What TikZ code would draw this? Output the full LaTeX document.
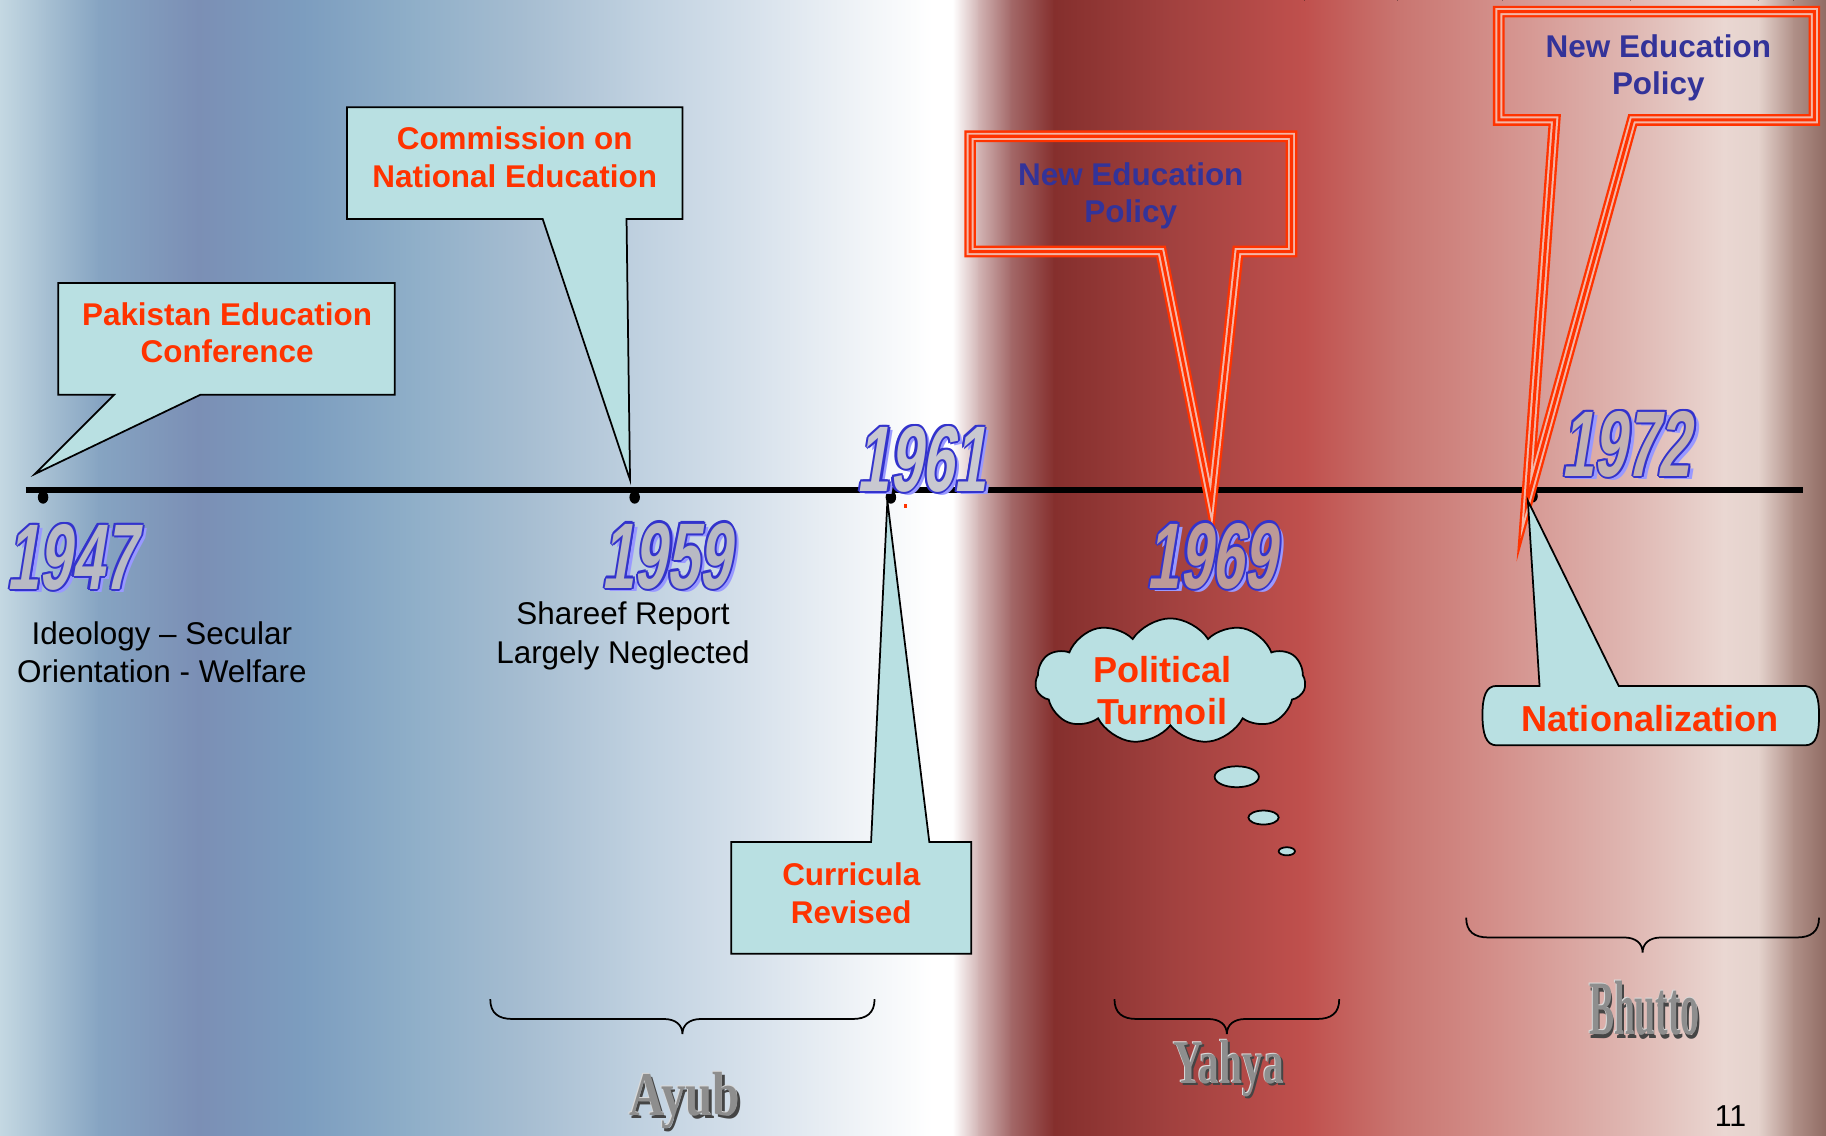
\documentclass[tikz,border=0pt]{standalone}
\usepackage{fontspec}
\usepackage{graphicx}
\setmainfont{Liberation Sans}
\newfontfamily\yearfont[FakeStretch=0.62,FakeSlant=0.16]{Liberation Sans}
\newfontfamily\leadfont{Liberation Serif}
\usetikzlibrary{shapes.symbols,shapes.geometric}

\definecolor{b0}{HTML}{C4D8E2}
\definecolor{b1}{HTML}{A6BFD2}
\definecolor{b2}{HTML}{86A4C2}
\definecolor{b3}{HTML}{7B8FB5}
\definecolor{b4}{HTML}{7C9DBF}
\definecolor{b5}{HTML}{8EAEC8}
\definecolor{b6}{HTML}{A6BDD1}
\definecolor{b7}{HTML}{C0D1E0}
\definecolor{b8}{HTML}{D8E2EC}
\definecolor{b9}{HTML}{EEF2F6}
\definecolor{b10}{HTML}{FFFFFF}
\definecolor{r1}{HTML}{D2B4B4}
\definecolor{r2}{HTML}{A36868}
\definecolor{r3}{HTML}{852F2D}
\definecolor{r4}{HTML}{A0403E}
\definecolor{r5}{HTML}{C0504D}
\definecolor{r6}{HTML}{C97570}
\definecolor{r7}{HTML}{D4918C}
\definecolor{r8}{HTML}{DFB7B2}
\definecolor{r9}{HTML}{EAD7D2}
\definecolor{r10}{HTML}{E4D2CC}
\definecolor{r11}{HTML}{B09088}
\definecolor{r12}{HTML}{8F6B63}

\definecolor{cfill}{HTML}{B9E0E2}
\definecolor{redtext}{HTML}{FF3300}
\definecolor{navytext}{HTML}{333399}
\definecolor{calred}{HTML}{FF3300}
\definecolor{calpink}{HTML}{F4B6A6}
\definecolor{youtline}{HTML}{3333CC}
\definecolor{yshadow}{HTML}{9999FF}
\definecolor{yfillA}{HTML}{B8BAC4}
\definecolor{yfillB}{HTML}{C8C8D0}
\definecolor{yfillC}{HTML}{BC9A98}
\definecolor{yfillD}{HTML}{C4B2B2}
\definecolor{leaddark}{HTML}{454545}
\definecolor{leadmid}{HTML}{8E8E8E}
\definecolor{leadlight}{HTML}{DADADA}

\newcommand\ocp[3]{\rlap{\hspace*{#1pt}\raisebox{#2pt}{#3}}}
\newcommand\yearmark[2]{%
  \ocp{4}{-3}{\color{yshadow}#2}%
  \ocp{1.8}{0}{\color{youtline}#2}\ocp{-1.8}{0}{\color{youtline}#2}%
  \ocp{0}{1.8}{\color{youtline}#2}\ocp{0}{-1.8}{\color{youtline}#2}%
  \ocp{1.3}{1.3}{\color{youtline}#2}\ocp{-1.3}{1.3}{\color{youtline}#2}%
  \ocp{1.3}{-1.3}{\color{youtline}#2}\ocp{-1.3}{-1.3}{\color{youtline}#2}%
  {\color{#1}#2}}
\newcommand\leadmark[1]{%
  \ocp{2.5}{-2}{\color{leaddark}#1}%
  \ocp{-0.8}{0.8}{\color{leadlight}#1}%
  {\color{leadmid}#1}}
\newcommand\ubrace[4]{%
  \draw[bracestyle] (#1,#3) .. controls (#1,#4-5) and (#1+7,#4) .. (#1+19,#4)
    -- ({(#1+#2)/2-16},#4) .. controls ({(#1+#2)/2-6},#4) and ({(#1+#2)/2},#4+5) .. ({(#1+#2)/2},#4+13)
    .. controls ({(#1+#2)/2},#4+5) and ({(#1+#2)/2+6},#4) .. ({(#1+#2)/2+16},#4)
    -- (#2-19,#4) .. controls (#2-7,#4) and (#2,#4-5) .. (#2,#3);}

\tikzset{
  callout/.style={draw=black, line width=1.5pt, fill=cfill, line join=miter},
  redcall/.style={draw=calred, line width=10pt, miter limit=14, line join=miter,
    postaction={draw=calpink, line width=6pt, miter limit=14, line join=miter},
    postaction={draw=calred, line width=2.6pt, miter limit=14, line join=miter}},
  boxtext/.style={font=\bfseries\fontsize{27}{32}\selectfont, text=redtext, align=center, inner sep=0pt},
  bigtext/.style={font=\bfseries\fontsize{31}{36}\selectfont, text=redtext, align=center, inner sep=0pt},
  navtext/.style={font=\bfseries\fontsize{27}{32}\selectfont, text=navytext, align=center, inner sep=0pt},
  plaintext/.style={font=\fontsize{27}{33}\selectfont, text=black, align=center, inner sep=0pt},
  yearlbl/.style={font=\yearfont\bfseries\fontsize{80}{80}\selectfont, inner sep=0pt},
  leadlbl/.style={font=\leadfont\bfseries\fontsize{48}{48}\selectfont, inner sep=0pt},
  tickmark/.style={ellipse, fill=black, minimum width=9pt, minimum height=11pt, inner sep=0pt},
  bubble/.style={ellipse, draw=black, line width=1.5pt, fill=cfill, inner sep=0pt},
  bracestyle/.style={draw=black, line width=1.5pt},
}

\begin{document}
\begin{tikzpicture}[x=1pt,y=-1pt]
\useasboundingbox (0,0) rectangle (1568,975);
% background
\foreach \xa/\xb/\ca/\cb in {0/40/b0/b1, 40/85/b1/b2, 85/170/b2/b3, 170/260/b3/b4,
  260/350/b4/b5, 350/450/b5/b6, 450/550/b6/b7, 550/650/b7/b8, 650/730/b8/b9,
  730/800/b9/b10, 800/818/b10/b10, 818/840/b10/r1, 840/868/r1/r2, 868/905/r2/r3,
  905/1000/r3/r4, 1000/1120/r4/r5, 1120/1200/r5/r6, 1200/1290/r6/r7, 1290/1400/r7/r8,
  1400/1480/r8/r9, 1480/1510/r9/r10, 1510/1540/r10/r11, 1540/1568/r11/r12}
  {\fill[left color=\ca, right color=\cb] (\xa,0) rectangle ({\xb+0.8},975);}

% timeline
\coordinate (tlL) at (22,421);
\coordinate (tlR) at (1548,421);
\draw[line width=5pt] (tlL) -- (tlR);
\node[tickmark] (t1947) at (37,427) {};
\node[tickmark] (t1959) at (545,427) {};
\node[tickmark] (t1961) at (765,427) {};
\node[tickmark] (t1969) at (1040,428) {};
\node[tickmark] (t1972) at (1316,426) {};
\fill[redtext] (776,433) rectangle (779,436);

% tips of the callouts
\coordinate (tipPEC) at (30,407);
\coordinate (tipCNE) at (541,412);
\coordinate (tipCR) at (762,430);
\coordinate (tipN69) at (1040,432);
\coordinate (tipN72) at (1311,432);
\coordinate (tipNat) at (1312,430);

% Pakistan Education Conference
\draw[callout] (50,243) -- (339,243) -- (339,339) -- (172,339) -- (tipPEC) -- (98,339) -- (50,339) -- cycle;
\node[boxtext] (pec) at (195,286) {Pakistan Education\\Conference};

% Commission on National Education
\draw[callout] (298,92) -- (586,92) -- (586,188) -- (538,188) -- (tipCNE) -- (466,188) -- (298,188) -- cycle;
\node[boxtext] (cne) at (442,135) {Commission on\\National Education};

% Curricula Revised
\draw[callout] (628,723) -- (748,723) -- (tipCR) -- (798,723) -- (834,723) -- (834,819) -- (628,819) -- cycle;
\node[boxtext] (cr) at (731,767) {Curricula\\Revised};

% New Education Policy 1969
\draw[redcall] (833,117) -- (1109,117) -- (1109,216) -- (1063,216) -- (tipN69) -- (997,216) -- (833,216) -- cycle;
\node[navtext] (nep69) at (971,168) {New Education\\Policy};

% New Education Policy 1972
\draw[redcall] (1287,10) -- (1558,10) -- (1558,103) -- (1402,103) -- (tipN72) -- (1335,103) -- (1287,103) -- cycle;
\node[navtext] (nep72) at (1424,58) {New Education\\Policy};

% Nationalization
\draw[callout] (1285,589) -- (1322,589) -- (tipNat) -- (1390,589) -- (1550,589)
  .. controls (1560,590) and (1562,600) .. (1562,614)
  .. controls (1562,630) and (1560,640) .. (1550,640) -- (1285,640)
  .. controls (1276,640) and (1273,630) .. (1273,614)
  .. controls (1273,598) and (1276,589) .. (1285,589) -- cycle;
\node[bigtext] (nat) at (1417,617) {Nationalization};

% Political Turmoil cloud
\node[cloud, cloud puffs=11, cloud puff arc=115, aspect=2.1, draw=black, line width=1.5pt,
  fill=cfill, minimum width=232pt, minimum height=108pt, inner sep=0pt] (cloud) at (1005,585) {};
\node[bigtext] (pt) at (998,593) {Political\\Turmoil};
\node[bubble, minimum width=38pt, minimum height=18pt] (bub1) at (1062,667) {};
\node[bubble, minimum width=26pt, minimum height=12pt] (bub2) at (1085,702) {};
\node[bubble, minimum width=14pt, minimum height=7pt] (bub3) at (1105,731) {};

% years
\node[yearlbl] (y1947) at (61,479) {\yearmark{yfillA}{1947}};
\node[yearlbl] (y1959) at (572,478) {\yearmark{yfillA}{1959}};
\node[yearlbl] (y1961) at (791,395) {\yearmark{yfillB}{1961}};
\node[yearlbl] (y1969) at (1040,478) {\yearmark{yfillC}{1969}};
\node[yearlbl] (y1972) at (1396,382) {\yearmark{yfillD}{1972}};

% plain texts
\node[plaintext] (ideo) at (139,560) {Ideology -- Secular\\Orientation - Welfare};
\node[plaintext] (shar) at (535,546) {Shareef Report\\Largely Neglected};

% braces
\ubrace{421}{751}{858}{875}
\ubrace{957}{1150}{858}{875}
\ubrace{1259}{1562}{788}{805}

% leaders
\node[leadlbl] (ayub) at (588,946) {\resizebox{95pt}{38pt}{\leadmark{Ayub}}};
\node[leadlbl] (yahya) at (1055,918) {\resizebox{95pt}{38pt}{\leadmark{Yahya}}};
\node[leadlbl] (bhutto) at (1412,867) {\resizebox{95pt}{47pt}{\leadmark{Bhutto}}};

% page number
\node[font=\fontsize{26}{26}\selectfont, inner sep=0pt] (pnum) at (1486,958) {11};
\end{tikzpicture}
\end{document}
